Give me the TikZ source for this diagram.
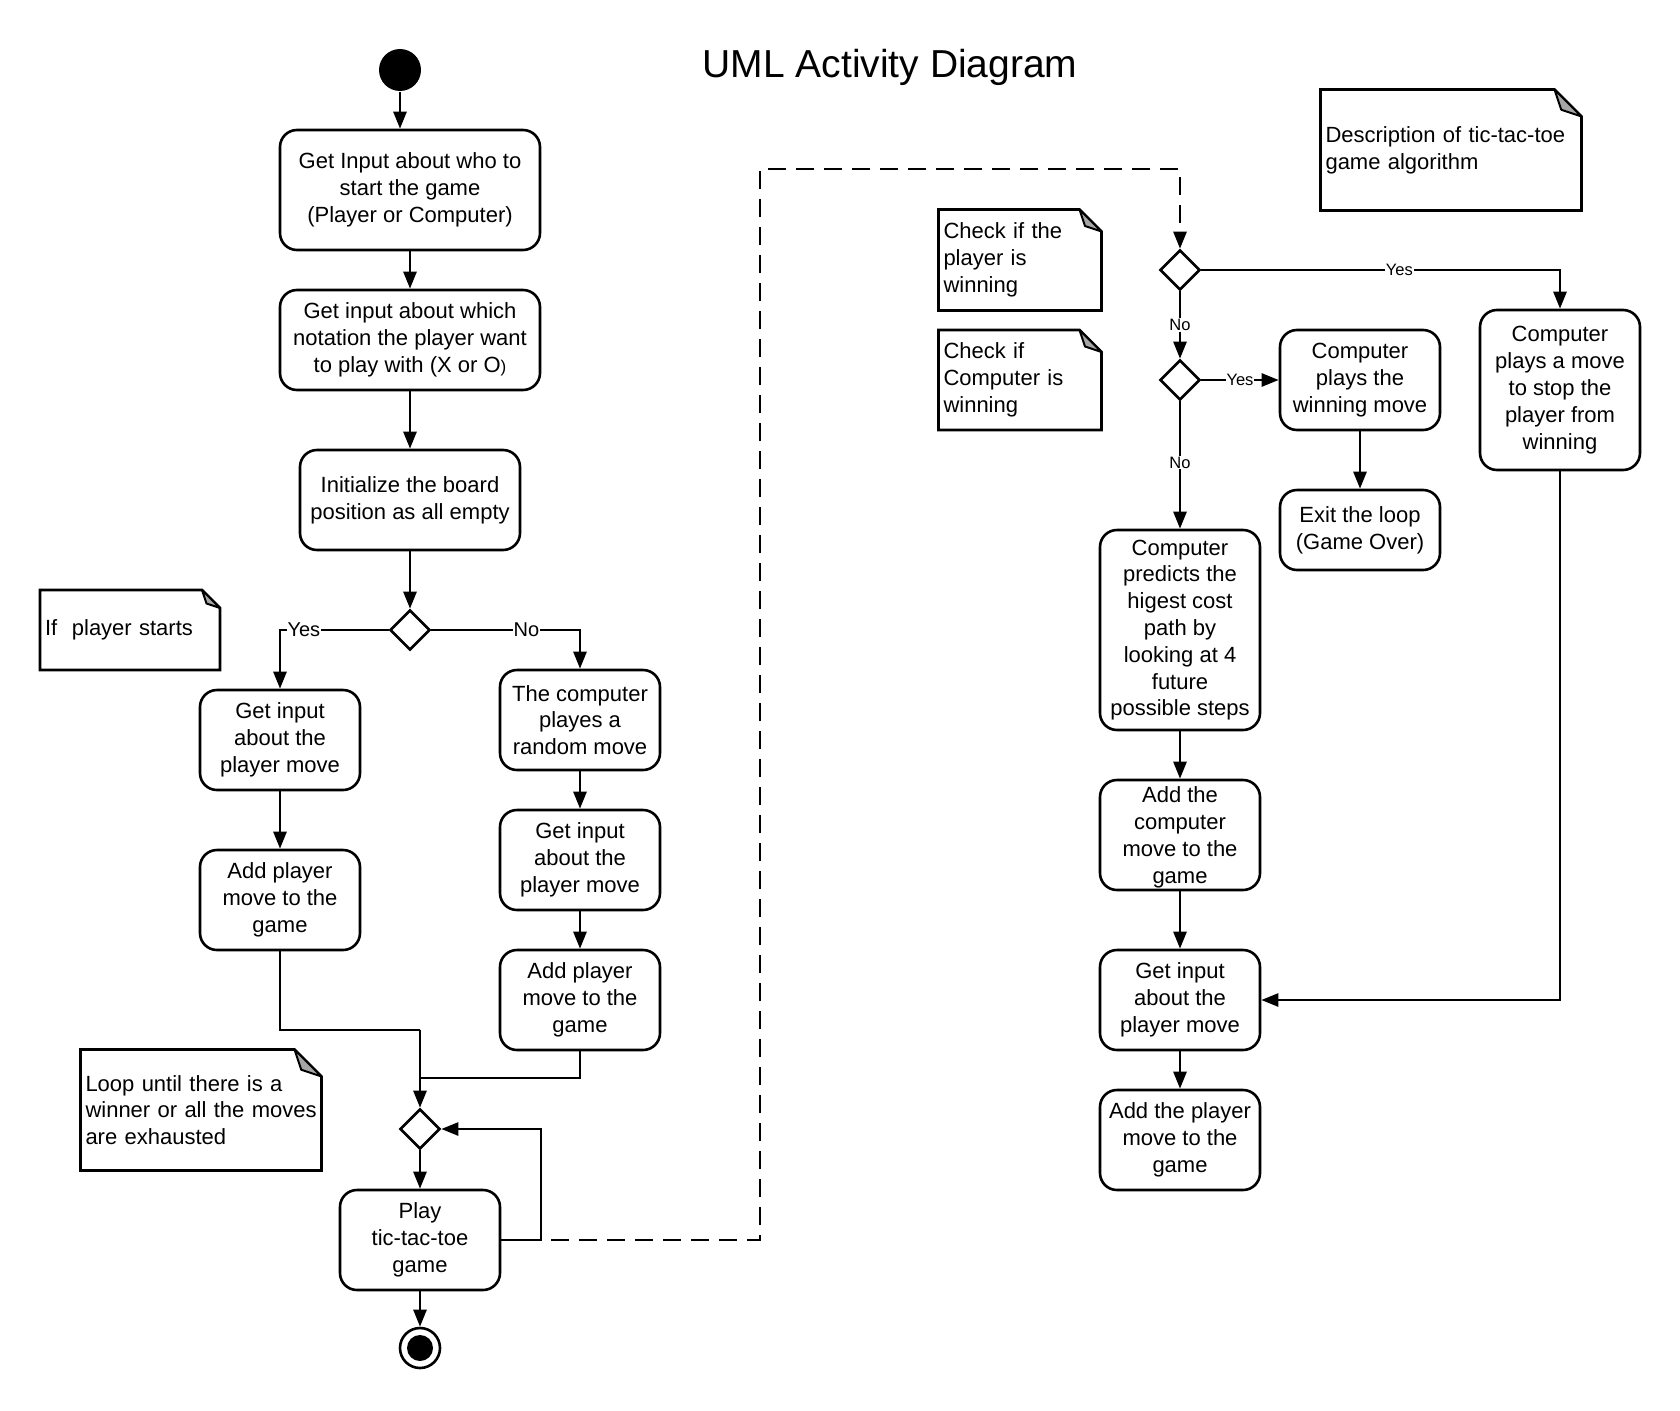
\documentclass[tikz,border=0pt]{standalone}
\usepackage{fontspec}
\setmainfont{Liberation Sans}
\usetikzlibrary{arrows.meta,shapes.geometric}

\begin{document}
\begin{tikzpicture}[x=1pt, y=-1pt, line width=2.6pt,
  act/.style={draw, rectangle, rounded corners=17pt, align=center, inner sep=0pt,
    minimum width=160pt, minimum height=100pt, font=\fontsize{22}{26.8}\selectfont},
  decision/.style={draw, diamond, aspect=1, inner sep=0pt, minimum size=40pt},
  initial/.style={circle, fill, inner sep=0pt, minimum size=42pt},
  final/.style={circle, draw, inner sep=0pt, minimum size=40pt,
    path picture={\fill (path picture bounding box.center) circle[radius=13pt];}},
  note/.style={align=left, inner xsep=5pt, inner ysep=0pt, outer sep=0pt,
    font=\fontsize{22}{26.8}\selectfont},
  fold/.style={fill=black!35, line width=2pt, line join=round},
  flow/.style={-{Triangle[length=17pt,width=13pt]}},
  dashflow/.style={flow, dash pattern=on 18pt off 10pt, dash phase=18pt},
  lblL/.style={fill=white, inner sep=1pt, font=\fontsize{20}{24}\selectfont},
  lblR/.style={fill=white, inner sep=1pt, font=\fontsize{16.5}{20}\selectfont}]
\useasboundingbox (0,0) rectangle (1680,1410);

% --- Title ---
\node[font=\fontsize{39}{47}\selectfont] (title) at (890,67) {UML Activity Diagram};

% --- Left column: set-up and first move ---
\node[initial] (start) at (400,70) {};
\node[act, minimum width=260pt, minimum height=120pt] (getstart) at (410,190)
  {Get Input about who to\\start the game\\(Player or Computer)};
\node[act, minimum width=260pt] (getnot) at (410,340)
  {Get input about which\\notation the player want\\to play with (X or O{\fontsize{17}{17}\selectfont)}};
\node[act, minimum width=220pt] (initb) at (410,500)
  {Initialize the board\\position as all empty};
\node[decision] (dstart) at (410,630) {};

\node[act] (pmoveA) at (280,740) {Get input\\about the\\player move};
\node[act] (paddA) at (280,900) {Add player\\move to the\\game};
\node[act] (crand) at (580,720) {The computer\\playes a\\random move};
\node[act] (pmoveB) at (580,860) {Get input\\about the\\player move};
\node[act] (paddB) at (580,1000) {Add player\\move to the\\game};

\node[decision] (dloop) at (420,1129) {};
\node[act] (play) at (420,1240) {Play\\tic-tac-toe\\game};
\node[final] (stop) at (420,1348) {};

% --- Right column: game loop ---
\node[decision] (dpl) at (1180,270) {};
\node[decision] (dcp) at (1180,380) {};
\node[act] (cwin) at (1360,380) {Computer\\plays the\\winning move};
\node[act, minimum height=80pt] (exitl) at (1360,530) {Exit the loop\\(Game Over)};
\node[act, minimum height=160pt] (cblock) at (1560,390)
  {Computer\\plays a move\\to stop the\\player from\\winning};
\node[act, minimum height=200pt] (cpred) at (1180,630)
  {Computer\\predicts the\\higest cost\\path by\\looking at 4\\future\\possible steps};
\node[act, minimum height=110pt] (cadd) at (1180,835)
  {\\[-6pt]Add the\\computer\\move to the\\game};
\node[act] (pmoveC) at (1180,1000) {Get input\\about the\\player move};
\node[act] (paddC) at (1180,1140) {Add the player\\move to the\\game};

% --- Notes ---
\node[note, text width=170pt, minimum height=80pt] (nstart) at (130,630) {If\ \ player starts};
\node[note, text width=231pt, minimum height=121pt] (nloop) at (201,1110)
  {Loop until there is a\\\mbox{winner or all the moves}\\are exhausted};
\node[note, text width=251pt, minimum height=121pt] (ndesc) at (1451,150)
  {Description of tic-tac-toe\\game algorithm};
\node[note, text width=153pt, minimum height=101pt] (nplwin) at (1020,260)
  {Check if the\\player is\\winning};
\node[note, text width=153pt, minimum height=100pt] (ncpwin) at (1020,380)
  {Check if\\Computer is\\winning};
\foreach \n/\c in {nstart/18, nloop/27, ndesc/27, nplwin/22, ncpwin/22} {
  \pgfmathsetmacro{\cc}{0.75*\c}
  \draw (\n.south west) -- (\n.north west) -- ([xshift=-\c pt]\n.north east)
    -- ([yshift=-\c pt]\n.north east) -- (\n.south east) -- cycle;
  \filldraw[fold] ([xshift=-\c pt]\n.north east) -- ([xshift=-\cc pt, yshift=-\cc pt]\n.north east)
    -- ([yshift=-\c pt]\n.north east) -- cycle;
}

% --- Connectors, left ---
\draw[flow] (start) -- (start |- getstart.north);
\draw[flow] (getstart) -- (getnot);
\draw[flow] (getnot) -- (initb);
\draw[flow] (initb) -- (dstart);
\draw[flow] (dstart) -| node[lblL, pos=0.39] {Yes} (pmoveA);
\draw[flow] (dstart) -| node[lblL, pos=0.32] {No} (crand);
\draw[flow] (pmoveA) -- (paddA);
\draw[flow] (crand) -- (pmoveB);
\draw[flow] (pmoveB) -- (paddB);
\coordinate (joinA) at (420,1030);
\coordinate (joinB) at (420,1078);
\draw (paddA) |- (joinA);
\draw (paddB) |- (joinB);
\draw[flow] (joinA) -- (dloop);
\draw[flow] (dloop) -- (play);
\draw[flow] (play) -- (stop);
\coordinate (loopc) at (541,1240);
\draw[flow] (play.east) -- (loopc) |- (dloop.east);

% dashed hand-over to the game loop
\coordinate (dashA) at (760,1240);
\coordinate (dashB) at (760,169);
\draw[dashflow] (loopc) -- (dashA) -- (dashB) -| (dpl.north);

% --- Connectors, right ---
\draw[flow] (dpl) -| node[lblR, pos=0.276] {Yes} (cblock);
\draw[flow] (dpl) -- node[lblR] {No} (dcp);
\draw[flow] (dcp) -- node[lblR] {Yes} (cwin);
\draw[flow] (cwin) -- (exitl);
\draw[flow] (dcp) -- node[lblR, pos=0.48] {No} (cpred);
\draw[flow] (cpred) -- (cadd);
\draw[flow] (cadd) -- (pmoveC);
\draw[flow] (pmoveC) -- (paddC);
\draw[flow] (cblock) |- (pmoveC);
\end{tikzpicture}
\end{document}
